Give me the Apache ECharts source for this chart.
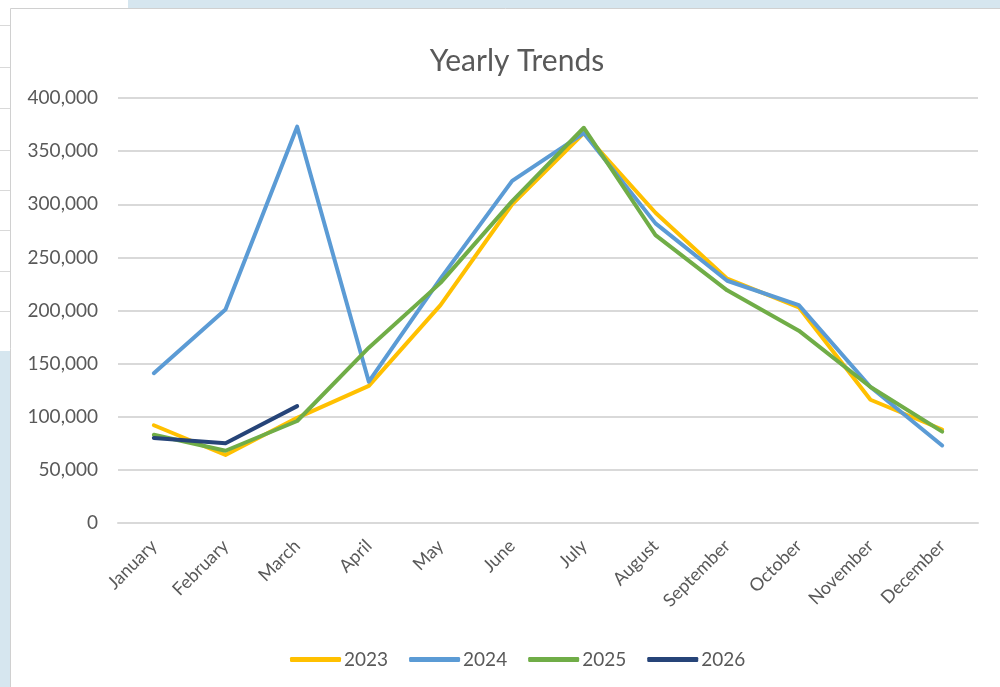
<!DOCTYPE html>
<html>
<head>
<meta charset="utf-8">
<title>Yearly Trends</title>
<script src="https://cdn.jsdelivr.net/npm/echarts@6/dist/echarts.min.js"></script>
<style>
  html, body { margin: 0; padding: 0; background: #fff; }
  #main { width: 1000px; height: 687px; }
</style>
</head>
<body>
<div id="main"></div>
<script>
var months = ['January', 'February', 'March', 'April', 'May', 'June',
  'July', 'August', 'September', 'October', 'November', 'December'];
var years = ['2023', '2024', '2025', '2026'];

// values
var y2023 = [92000, 64000, 99000, 129000, 205000, 300000, 367000, 292000, 230000, 203000, 116000, 88000];
var y2024 = [141000, 201000, 373000, 133000, 230000, 322000, 367000, 282000, 228000, 205000, 128000, 73000];
var y2025 = [83000, 68000, 96000, 165000, 226000, 303000, 372000, 271000, 219000, 181000, 128000, 86000];
var y2026 = [80000, 75000, 110000];

var colors = ['#FFC000', '#5B9BD5', '#70AD47', '#264478'];
var txt = '#595959';
var font = 'Lato';

var myChart = echarts.init(document.getElementById('main'));

// spreadsheet bits behind the chart object in the screenshot
var bg = [
  { type: 'rect', shape: { x: 128, y: 0, width: 872, height: 8 }, style: { fill: '#D6E6EF' }, z: -10 },
  { type: 'rect', shape: { x: 0, y: 351, width: 10, height: 336 }, style: { fill: '#D6E6EF' }, z: -10 },
  { type: 'rect', shape: { x: 10.5, y: 8.5, width: 1000, height: 700 }, style: { fill: '#fff', stroke: '#D0D0D0', lineWidth: 1 }, z: -9 }
];
[25, 67, 108, 150, 190, 230, 271, 311].forEach(function(y) {
  bg.push({ type: 'line', shape: { x1: 0, y1: y + 0.5, x2: 10, y2: y + 0.5 }, style: { stroke: '#D9D9D9', lineWidth: 1 }, z: -10 });
});

var series = [y2023, y2024, y2025, y2026].map(function(d, i) {
  return {
    name: years[i],
    type: 'line',
    data: d,
    symbol: 'none',
    smooth: false,
    lineStyle: { width: 4, color: colors[i], cap: 'round', join: 'round' },
    itemStyle: { color: colors[i] }
  };
});

var option = {
  animation: false,
  graphic: bg,
  title: {
    text: 'Yearly Trends',
    left: 512,
    textAlign: 'center',
    top: 41,
    textStyle: { color: txt, fontFamily: font, fontSize: 30, fontWeight: 'normal' }
  },
  legend: {
    data: years,
    bottom: 13,
    left: 285,
    icon: 'roundRect',
    itemWidth: 51,
    itemHeight: 5,
    itemGap: 21,
    textStyle: { color: txt, fontFamily: font, fontSize: 19, padding: [0, 0, 0, -2] }
  },
  grid: { left: 118, right: 22, top: 98, bottom: 164, containLabel: false },
  xAxis: {
    type: 'category',
    data: months,
    boundaryGap: true,
    axisLine: { show: true, lineStyle: { color: '#D9D9D9', width: 2 } },
    axisTick: { show: false },
    axisLabel: { rotate: 45, color: txt, fontFamily: font, fontSize: 18, margin: 20, interval: 0 }
  },
  yAxis: {
    type: 'value',
    min: 0,
    max: 400000,
    interval: 50000,
    axisLine: { show: false },
    axisTick: { show: false },
    splitLine: { lineStyle: { color: '#D9D9D9', width: 2 } },
    axisLabel: {
      color: txt, fontFamily: font, fontSize: 19, margin: 20,
      formatter: function(v) { return v.toLocaleString('en-US'); }
    }
  },
  series: series
};
myChart.setOption(option);
</script>
</body>
</html>
